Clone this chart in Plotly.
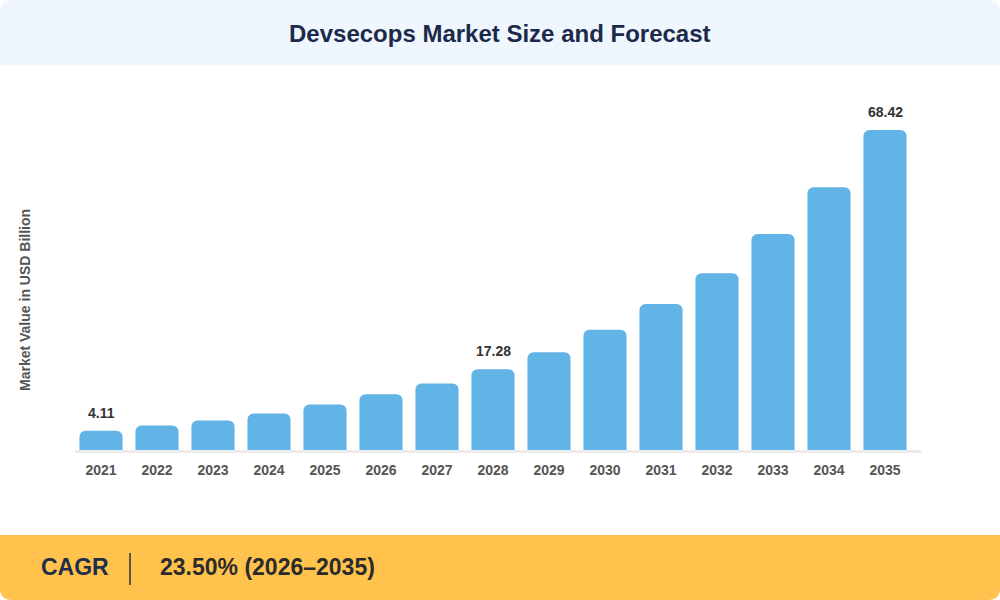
import plotly.graph_objects as go

years = [str(y) for y in range(2021, 2036)]
values = [4.11, 5.25, 6.3, 7.8, 9.75, 11.9, 14.2, 17.28, 20.9, 25.7, 31.2, 37.8, 46.2, 56.2, 68.42]
labels = ["4.11", "", "", "", "", "", "", "17.28", "", "", "", "", "", "", "68.42"]

title_text = "Devsecops Market Size and Forecast"
y_title = "Market Value in USD Billion"
cagr_label = "CAGR"
cagr_value = "23.50% (2026\u20132035)"

W, H = 1000, 600
def px(x):
    return x / W
def py(y):
    return 1 - y / H

def rounded_rect(x0, y0, x1, y1, r, top=True, bottom=True):
    rt = r if top else 0
    rb = r if bottom else 0
    def P(x, y):
        return f"{px(x):.5f},{py(y):.5f}"
    path = f"M {P(x0 + rt, y0)} L {P(x1 - rt, y0)} Q {P(x1, y0)} {P(x1, y0 + rt)} "
    path += f"L {P(x1, y1 - rb)} Q {P(x1, y1)} {P(x1 - rb, y1)} "
    path += f"L {P(x0 + rb, y1)} Q {P(x0, y1)} {P(x0, y1 - rb)} "
    path += f"L {P(x0, y0 + rt)} Q {P(x0, y0)} {P(x0 + rt, y0)} Z"
    return path

FONT = "Liberation Sans"

fig = go.Figure()
fig.add_trace(go.Bar(
    x=years, y=values,
    marker=dict(color="#62B3E6", cornerradius=6, line=dict(width=0)),
    hoverinfo="skip",
))

shapes = [
    dict(type="path", xref="paper", yref="paper", path=rounded_rect(0, 0, 1000, 65, 12, top=True, bottom=False),
         fillcolor="#EFF6FE", line=dict(width=0), layer="below"),
    dict(type="path", xref="paper", yref="paper", path=rounded_rect(0, 535, 1000, 600, 12, top=False, bottom=True),
         fillcolor="#FFC24C", line=dict(width=0), layer="below"),
    dict(type="line", xref="paper", yref="paper", x0=px(75), x1=px(922), y0=py(451.5), y1=py(451.5),
         line=dict(color="#EBEBEB", width=3), layer="below"),
    dict(type="line", xref="paper", yref="paper", x0=px(130), x1=px(130), y0=py(553), y1=py(585),
         line=dict(color="#2B3445", width=1.5)),
]

annotations = [
    dict(text=title_text, xref="paper", yref="paper", x=0.5, y=py(33), showarrow=False,
         xanchor="center", yanchor="middle",
         font=dict(family=FONT, size=24, color="#1B2A4A", weight="bold")),
    dict(text=y_title, xref="paper", yref="paper", x=px(25), y=py(300), showarrow=False,
         textangle=-90, xanchor="center", yanchor="middle",
         font=dict(family=FONT, size=14, color="#555555", weight="bold")),
    dict(text=cagr_label, xref="paper", yref="paper", x=px(39), y=py(567), showarrow=False,
         xanchor="left", yanchor="middle",
         font=dict(family=FONT, size=23, color="#1F2F4A", weight="bold")),
    dict(text=cagr_value, xref="paper", yref="paper", x=px(158), y=py(567), showarrow=False,
         xanchor="left", yanchor="middle",
         font=dict(family=FONT, size=23, color="#2B2B2B", weight="bold")),
]

for i, (v, lab) in enumerate(zip(values, labels)):
    if lab:
        annotations.append(dict(text=lab, x=i, y=v, xref="x", yref="y", showarrow=False,
                                xanchor="center", yanchor="bottom", yshift=8,
                                font=dict(family=FONT, size=14, color="#333333", weight="bold")))

fig.update_layout(
    width=W, height=H, margin=dict(l=0, r=0, t=0, b=0),
    paper_bgcolor="#FFFFFF", plot_bgcolor="rgba(0,0,0,0)",
    showlegend=False, bargap=0.23,
    shapes=shapes, annotations=annotations,
    xaxis=dict(type="category", domain=[px(73), px(913)], showgrid=False, zeroline=False, showline=False,
               ticks="outside", ticklen=7, tickcolor="rgba(0,0,0,0)",
               tickfont=dict(family=FONT, size=14, color="#555555", weight="bold")),
    yaxis=dict(domain=[py(450), py(90)], range=[0, 360 / (320 / 68.42)],
               visible=False),
)

fig.write_html("out.html", config={"displayModeBar": False},
               post_script="document.body.style.margin='0';document.body.style.overflow='hidden';")
